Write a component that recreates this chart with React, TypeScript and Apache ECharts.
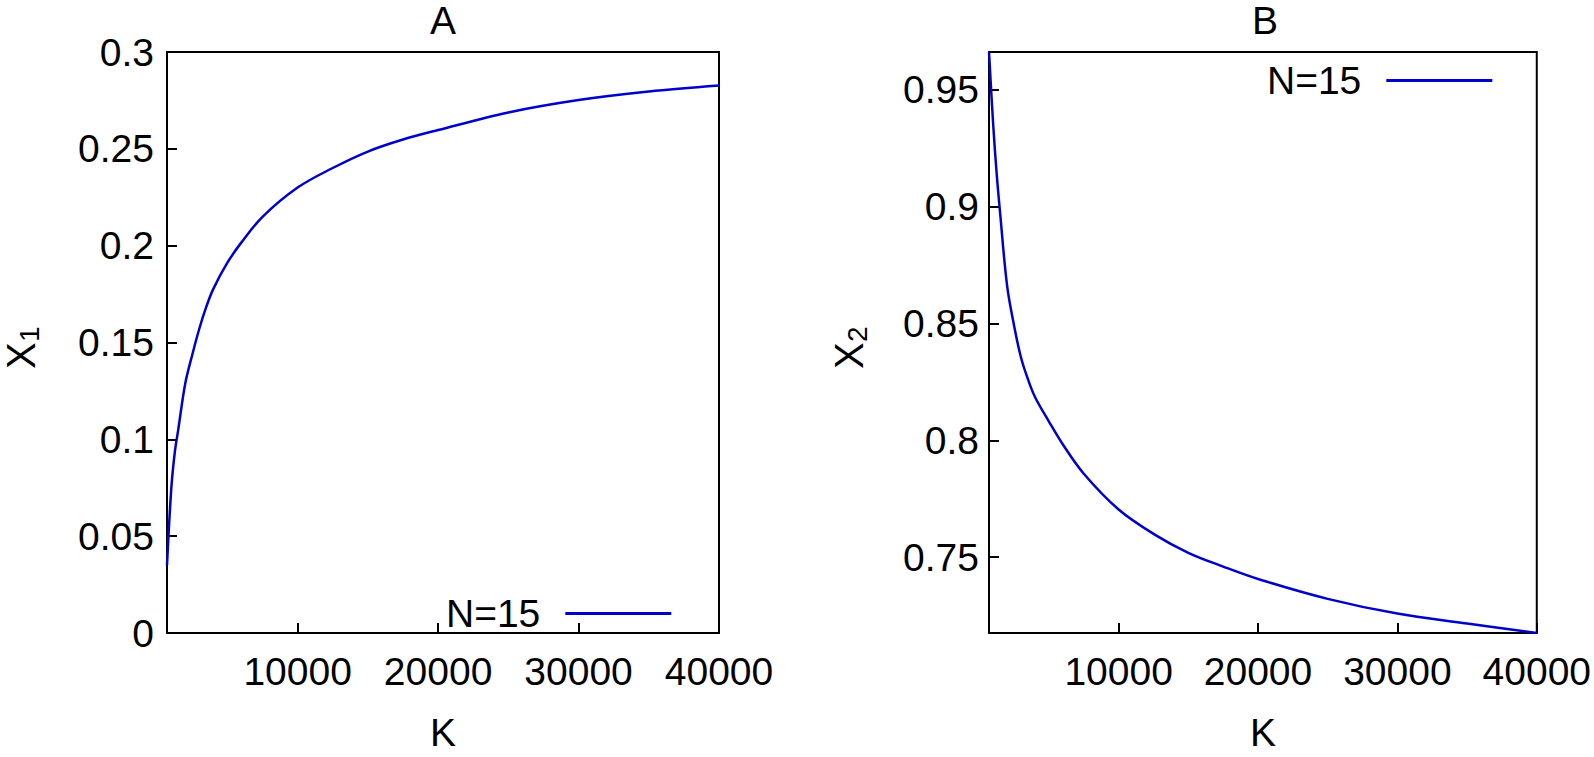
import React, { useEffect, useRef } from "react";
import * as echarts from "echarts";

// K values (x), shared by both panels
const K = [700, 1000, 1250, 1500, 2000, 2500, 3000, 3500, 4000, 5000, 6000, 7500, 10000, 12500, 15000, 17500, 20000, 25000, 30000, 35000, 40000];
// Panel A: X1 vs K
const X1 = [0.035, 0.074, 0.093, 0.105, 0.1288, 0.1437, 0.1571, 0.1685, 0.1777, 0.1912, 0.2017, 0.2149, 0.23, 0.2401, 0.2486, 0.2548, 0.2597, 0.2688, 0.2752, 0.2796, 0.2827];
// Panel B: X2 vs K
const X2 = [0.966, 0.935, 0.914, 0.897, 0.866, 0.849, 0.8353, 0.826, 0.8185, 0.808, 0.7982, 0.7857, 0.7704, 0.76, 0.7519, 0.746, 0.7407, 0.7322, 0.7259, 0.7217, 0.7176];

const SERIES_NAME = "N=15";
const PANEL_TITLES = ["A", "B"];
const X_NAME = "K";

const FONT = "Liberation Sans, Arial, Helvetica, sans-serif";
const FS = 39;
const BLUE = "#0000cd";

export default function App() {
  const ref = useRef<HTMLDivElement>(null);
  useEffect(() => {
    document.body.style.margin = "0";
    const chart = echarts.init(ref.current!, null, { renderer: "svg" });
    const axisCommon = {
      axisLine: { show: true, onZero: false, lineStyle: { color: "#000", width: 2 } },
      axisTick: { show: true, inside: true, length: 10, lineStyle: { color: "#000", width: 2 } },
      splitLine: { show: false },
    };
    const labelStyle = { color: "#000", fontSize: FS, fontFamily: FONT };
    const fmt = (v: number) => String(Math.round(v * 10000) / 10000);
    const grids = [
      { left: 167, top: 52, width: 552, height: 591 },
      { left: 989, top: 52, width: 552, height: 591 },
    ];
    const yName = (cx: number, sub: string) => ({
      type: "group",
      x: cx,
      y: 347,
      rotation: Math.PI / 2,
      children: [
        { type: "text", x: -22, y: 0, style: { text: "X", fontSize: FS + 1, fontFamily: FONT, fill: "#000", align: "left", verticalAlign: "middle" } },
        { type: "text", x: 5, y: 8, style: { text: sub, fontSize: 28, fontFamily: FONT, fill: "#000", align: "left", verticalAlign: "middle" } },
      ],
    });
    const option: any = {
      animation: false,
      backgroundColor: "#fff",
      grid: grids.map((g) => ({ ...g, show: true, borderColor: "#000", borderWidth: 2, backgroundColor: "transparent" })),
      xAxis: [0, 1].map((i) => ({
        type: "value",
        gridIndex: i,
        min: 700,
        max: 40000,
        ...axisCommon,
        axisLabel: { ...labelStyle, margin: 19, showMinLabel: false, showMaxLabel: true, formatter: fmt },
        name: X_NAME,
        nameLocation: "middle",
        nameGap: 80,
        nameTextStyle: { ...labelStyle },
      })),
      yAxis: [
        {
          type: "value",
          gridIndex: 0,
          min: 0,
          max: 0.3,
          interval: 0.05,
          ...axisCommon,
          axisLabel: { ...labelStyle, margin: 13, formatter: fmt },
        },
        {
          type: "value",
          gridIndex: 1,
          min: 0.7176,
          max: 0.966,
          splitNumber: 5,
          ...axisCommon,
          axisLabel: { ...labelStyle, margin: 10, showMinLabel: false, showMaxLabel: false, formatter: fmt },
        },
      ],
      legend: [
        {
          data: [SERIES_NAME],
          left: 446,
          top: 594,
          padding: 0,
          align: "right",
          icon: "rect",
          itemWidth: 106,
          itemHeight: 3,
          selectedMode: false,
          textStyle: { ...labelStyle, padding: [0, 20, 0, 0] },
        },
        {
          data: [SERIES_NAME],
          left: 1267,
          top: 61,
          padding: 0,
          align: "right",
          icon: "rect",
          itemWidth: 106,
          itemHeight: 3,
          selectedMode: false,
          textStyle: { ...labelStyle, padding: [0, 20, 0, 0] },
        },
      ],
      series: [X1, X2].map((ys, i) => ({
        type: "line",
        name: SERIES_NAME,
        xAxisIndex: i,
        yAxisIndex: i,
        data: K.map((k, j) => [k, ys[j]]),
        showSymbol: false,
        symbol: "none",
        smooth: 0.35,
        color: BLUE,
        lineStyle: { color: BLUE, width: 2.5 },
      })),
      graphic: [
        { type: "text", x: 443, y: 20, style: { text: PANEL_TITLES[0], fontSize: FS, fontFamily: FONT, fill: "#000", align: "center", verticalAlign: "middle" } },
        { type: "text", x: 1265, y: 20, style: { text: PANEL_TITLES[1], fontSize: FS, fontFamily: FONT, fill: "#000", align: "center", verticalAlign: "middle" } },
        yName(21, "1"),
        yName(849, "2"),
      ],
    };
    chart.setOption(option);
    return () => chart.dispose();
  }, []);
  return <div ref={ref} style={{ width: 1594, height: 757 }} />;
}
